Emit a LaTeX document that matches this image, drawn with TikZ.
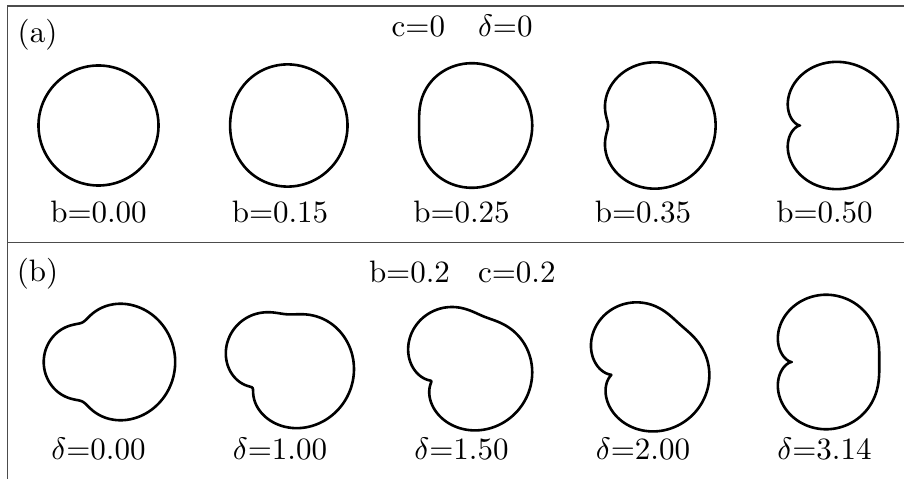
\documentclass[tikz,border=0pt]{standalone}
\usepackage{tikz}
\tikzset{
  curve/.style={line width=2.6pt, line join=round, black},
  frameline/.style={line width=1.3pt, black!70},
  lab/.style={scale=3.1, inner sep=0pt, outer sep=0pt},
}
\newcommand\fshape[5]{% ox oy b c delta(rad)
  \pgfmathsetmacro\fs{60/sqrt(1+2*#3*#3+3*#4*#4)}
  \pgfmathsetmacro\fd{#5*180/pi}
  \draw[curve] plot[domain=0:360, samples=540, variable=\t]
    ({#1+\fs*(cos(\t)+#3*cos(2*\t)+#4*cos(3*\t+\fd))},
     {#2+\fs*(sin(\t)+#3*sin(2*\t)+#4*sin(3*\t+\fd))}) -- cycle;
}
\begin{document}
\begin{tikzpicture}[x=1pt,y=1pt]
\useasboundingbox (0,0) rectangle (904,479);
% frame
\coordinate (tl) at (7.5,473);
\coordinate (tr) at (904,473);
\coordinate (bl) at (7.5,0);
\coordinate (ml) at (7.5,236.7);
\coordinate (mr) at (904,236.7);
\draw[frameline] (tr) -- (tl) -- (bl);
\draw[frameline] (ml) -- (mr);
% panel (a)
\node[lab, anchor=base] (pa) at (37.5,436) {(a)};
\node[lab, anchor=base west] (ha1) at (391.7,442.3) {c=0};
\node[lab, anchor=base west] (ha2) at (478,442.3) {$\delta$=0};
\fshape{98.5}{353.5}{0}{0}{0}
\fshape{280}{353.5}{0.15}{0}{0}
\fshape{461.5}{353.5}{0.25}{0}{0}
\fshape{643}{353.5}{0.35}{0}{0}
\fshape{824.5}{353.5}{0.5}{0}{0}
\node[lab, anchor=base] (la1) at (98.5,256) {b=0.00};
\node[lab, anchor=base] (la2) at (280,256) {b=0.15};
\node[lab, anchor=base] (la3) at (461.5,256) {b=0.25};
\node[lab, anchor=base] (la4) at (643,256) {b=0.35};
\node[lab, anchor=base] (la5) at (824.5,256) {b=0.50};
% panel (b)
\node[lab, anchor=base] (pb) at (37.5,197) {(b)};
\node[lab, anchor=base west] (hb1) at (369,196) {b=0.2};
\node[lab, anchor=base west] (hb2) at (478,196) {c=0.2};
\fshape{98.5}{117}{0.2}{0.2}{0}
\fshape{280}{117}{0.2}{0.2}{1.0}
\fshape{461.5}{117}{0.2}{0.2}{1.5}
\fshape{643}{117}{0.2}{0.2}{2.0}
\fshape{824.5}{117}{0.2}{0.2}{3.14159}
\node[lab, anchor=base] (lb1) at (98.5,19) {$\delta$=0.00};
\node[lab, anchor=base] (lb2) at (280,19) {$\delta$=1.00};
\node[lab, anchor=base] (lb3) at (461.5,19) {$\delta$=1.50};
\node[lab, anchor=base] (lb4) at (643,19) {$\delta$=2.00};
\node[lab, anchor=base] (lb5) at (824.5,19) {$\delta$=3.14};
\end{tikzpicture}
\end{document}
